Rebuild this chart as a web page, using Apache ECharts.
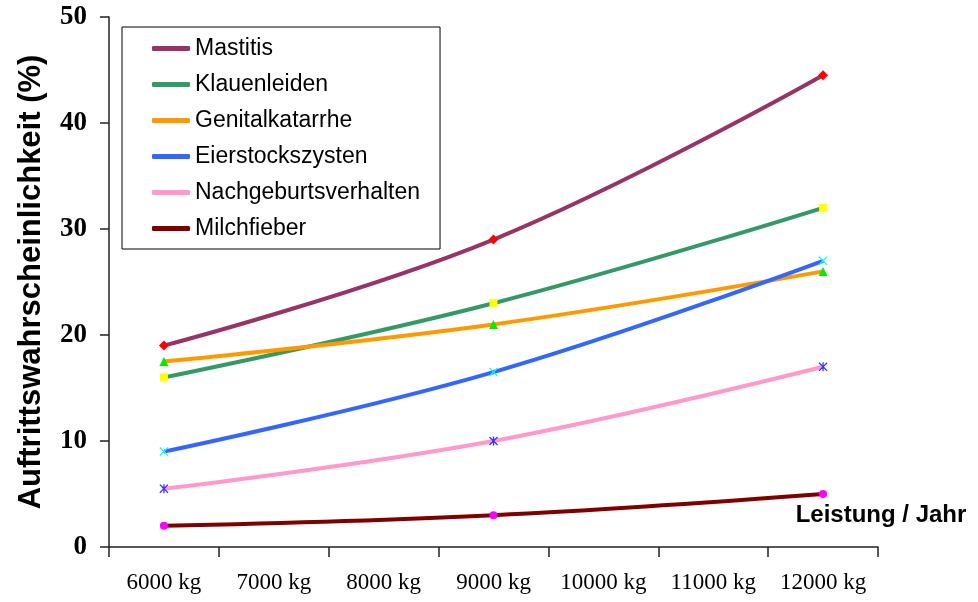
<!DOCTYPE html>
<html>
<head>
<meta charset="utf-8">
<script src="https://cdn.jsdelivr.net/npm/echarts@6/dist/echarts.min.js"></script>
<style>html,body{margin:0;padding:0;background:#fff}#c{width:978px;height:602px}</style>
</head>
<body>
<div id="c"></div>
<script>
var categories = ['6000 kg','7000 kg','8000 kg','9000 kg','10000 kg','11000 kg','12000 kg'];
var mastitis = [19, null, null, 29, null, null, 44.5];
var klauenleiden = [16, null, null, 23, null, null, 32];
var genitalkatarrhe = [17.5, null, null, 21, null, null, 26];
var eierstockszysten = [9, null, null, 16.5, null, null, 27];
var nachgeburtsverhalten = [5.5, null, null, 10, null, null, 17];
var milchfieber = [2, null, null, 3, null, null, 5];
var yTicks = [0, 10, 20, 30, 40, 50];

var xPath = 'path://M0,1L1,0L5,4L9,0L10,1L6,5L10,9L9,10L5,6L1,10L0,9L4,5Z';
var starPath = 'path://M0,1L1,0L5,4L9,0L10,1L6,5L10,9L9,10L5,6L1,10L0,9L4,5Z M4.3,0H5.7V10H4.3Z';

var seriesDefs = [
  {name:'Mastitis', data:mastitis, line:'#993366', mark:'#ff0000', symbol:'diamond', size:10},
  {name:'Klauenleiden', data:klauenleiden, line:'#339966', mark:'#ffff00', symbol:'rect', size:8},
  {name:'Genitalkatarrhe', data:genitalkatarrhe, line:'#ff9900', mark:'#00ee00', symbol:'triangle', size:9},
  {name:'Eierstockszysten', data:eierstockszysten, line:'#3366ff', mark:'#00ffff', symbol:xPath, size:9},
  {name:'Nachgeburtsverhalten', data:nachgeburtsverhalten, line:'#ff99cc', mark:'#3333ff', symbol:starPath, size:9},
  {name:'Milchfieber', data:milchfieber, line:'#800000', mark:'#ff00ff', symbol:'circle', size:8}
];

var chart = echarts.init(document.getElementById('c'), null, {renderer:'canvas'});
chart.setOption({
  backgroundColor:'#ffffff',
  animation:false,
  grid:{left:109, right:100, top:17, bottom:55, containLabel:false},
  legend:{
    orient:'vertical', left:122, top:27,
    padding:[10,20,9,30],
    borderColor:'#000', borderWidth:1,
    itemWidth:38, itemHeight:5, itemGap:13,
    textStyle:{fontFamily:'Liberation Sans, Arial, sans-serif', fontSize:23, color:'#000'},
    data:seriesDefs.map(function(s){return {name:s.name, icon:'roundRect', itemStyle:{color:s.line, borderWidth:0}};})
  },
  xAxis:{
    type:'category', data:categories, boundaryGap:true,
    name:'Leistung / Jahr', nameLocation:'end', nameGap:0,
    nameTextStyle:{fontFamily:'Liberation Sans, Arial, sans-serif', fontSize:24, fontWeight:'bold', color:'#000', align:'center', verticalAlign:'bottom', padding:[0,0,20,6]},
    axisLine:{lineStyle:{color:'#222', width:1.5}},
    axisTick:{show:true, alignWithLabel:false, length:10, lineStyle:{color:'#222', width:1.5}},
    axisLabel:{fontFamily:'Liberation Serif, Times New Roman, serif', fontSize:23, color:'#000', margin:24, interval:0},
    splitLine:{show:false}
  },
  yAxis:{
    type:'value', min:yTicks[0], max:yTicks[yTicks.length-1], interval:10,
    name:'Auftrittswahrscheinlichkeit (%)', nameLocation:'middle', nameGap:62,
    nameTextStyle:{fontFamily:'Liberation Sans, Arial, sans-serif', fontSize:31, fontWeight:'bold', color:'#000'},
    axisLine:{show:true, lineStyle:{color:'#222', width:1.5}},
    axisTick:{show:true, inside:false, length:9, lineStyle:{color:'#222', width:1.5}},
    axisLabel:{fontFamily:'Liberation Serif, Times New Roman, serif', fontSize:27, fontWeight:'bold', color:'#000', margin:22},
    splitLine:{show:false}
  },
  series:seriesDefs.map(function(s){
    return {
      name:s.name, type:'line', data:s.data, connectNulls:true, smooth:0.4,
      symbol:s.symbol, symbolSize:s.size, showSymbol:true,
      lineStyle:{color:s.line, width:4},
      itemStyle:{color:s.mark, borderWidth:0},
      emphasis:{disabled:true}
    };
  })
});
</script>
</body>
</html>
